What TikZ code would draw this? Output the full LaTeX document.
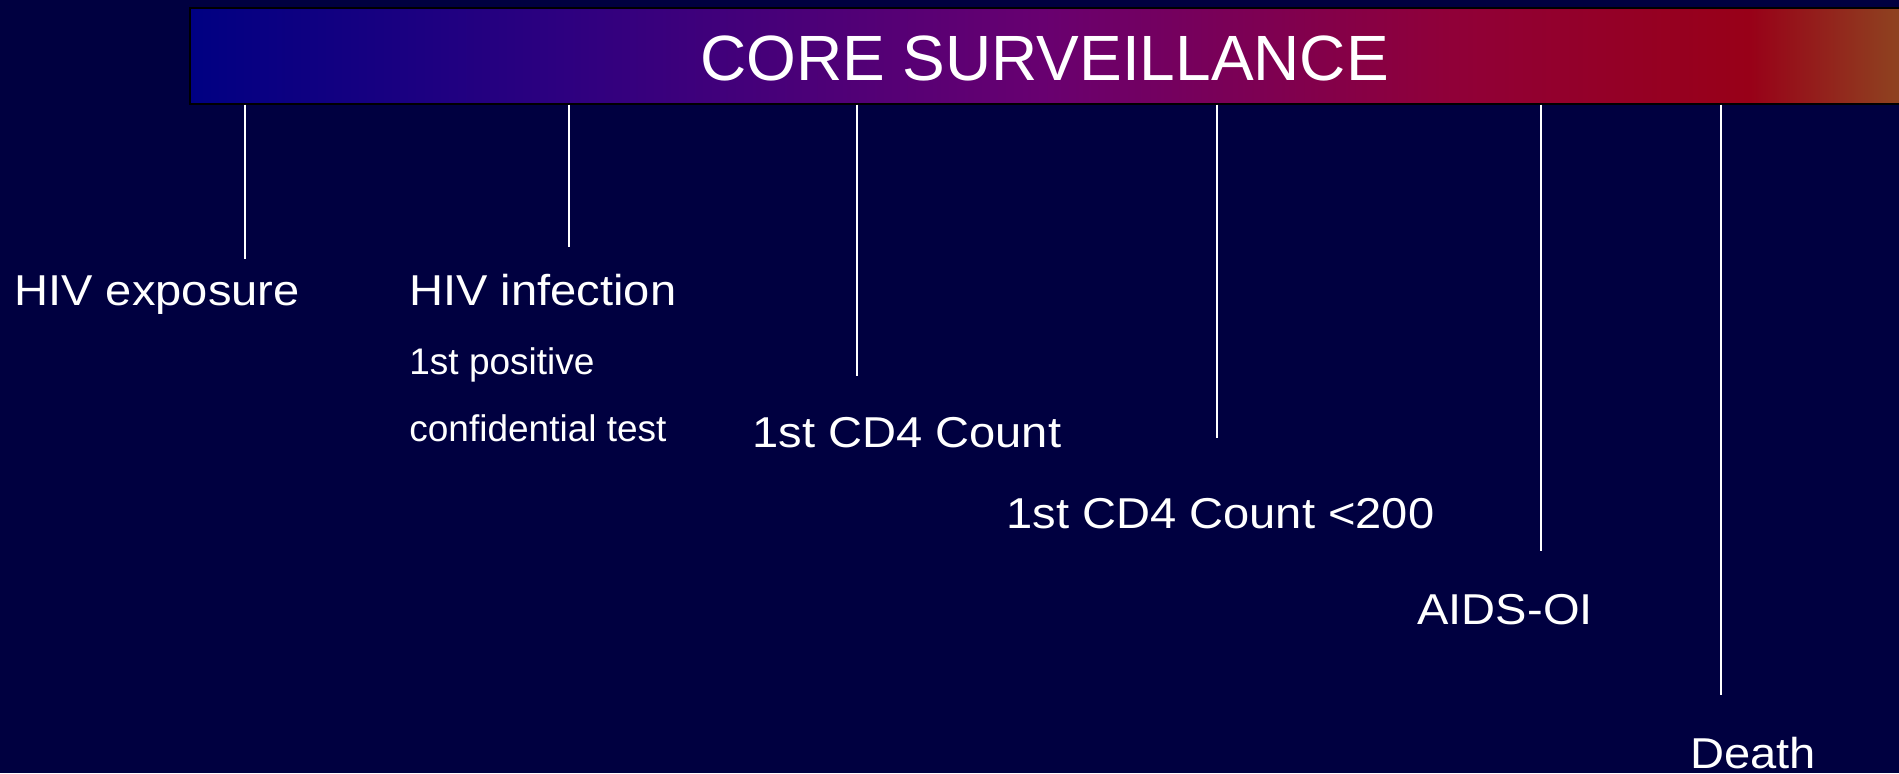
\documentclass[tikz,border=0pt]{standalone}
\usepackage{fontspec}
\setmainfont{Liberation Sans}
\newfontfamily\stretchedfont{Liberation Sans}[FakeStretch=1.09]
\usepackage{xcolor}
\definecolor{slidebg}{RGB}{0,0,64}
\definecolor{bandA}{RGB}{0,0,130}
\definecolor{bandB}{RGB}{45,0,128}
\definecolor{bandC}{RGB}{104,0,112}
\definecolor{bandD}{RGB}{144,0,56}
\definecolor{bandE}{RGB}{152,0,24}
\definecolor{bandF}{RGB}{142,68,32}
\pgfdeclarehorizontalshading{coreband}{100bp}{color(0bp)=(bandA); color(25bp)=(bandA); color(35.8bp)=(bandB); color(49.9bp)=(bandC); color(61.9bp)=(bandD); color(70.5bp)=(bandE); color(75bp)=(bandF); color(100bp)=(bandF)}

\begin{document}
\begin{tikzpicture}[x=0.5pt,y=-0.5pt]
\tikzset{band/.style={draw=black,line width=1pt,shading=coreband,minimum width=856pt,minimum height=47.75pt,inner sep=0pt}}
\tikzset{bandtitle/.style={text=white,inner sep=0pt,anchor=base,font=\fontsize{32}{38}\selectfont}}
\tikzset{event/.style={text=white,inner sep=0pt,anchor=base west,font=\fontsize{21.6}{26}\stretchedfont}}
\tikzset{note/.style={text=white,inner sep=0pt,anchor=base west,font=\fontsize{18.5}{22}\selectfont}}
\tikzset{tick/.style={white,line width=1pt}}

\fill[slidebg] (0,0) rectangle (1899,773);
\useasboundingbox (0,0) rectangle (1899,773);

\node[band] (band) at (1046,55.75) {};
\node[bandtitle] (title) at (1044.5,80) {CORE SURVEILLANCE};

\node[event] (exposure) at (14,305) {HIV exposure};
\node[event] (infection) at (409,305) {HIV infection};
\node[note] (positive) at (409,374) {1st positive};
\node[note] (conftest) at (409,441) {confidential test};
\node[event] (cdfour) at (752,447) {1st CD4 Count};
\node[event] (cdfourlow) at (1006,528) {1st CD4 Count <200};
\node[event] (aidsoi) at (1417,624) {AIDS-OI};
\node[event] (death) at (1690,768) {Death};

\coordinate (exposure end) at (245,259);
\coordinate (infection end) at (569,247);
\coordinate (cdfour end) at (857,376);
\coordinate (cdfourlow end) at (1217,438);
\coordinate (aidsoi end) at (1541,551);
\coordinate (death end) at (1721,695);

\foreach \ev in {exposure,infection,cdfour,cdfourlow,aidsoi,death}
  \draw[tick] (band.south -| \ev\space end) -- (\ev\space end);

\end{tikzpicture}
\end{document}
